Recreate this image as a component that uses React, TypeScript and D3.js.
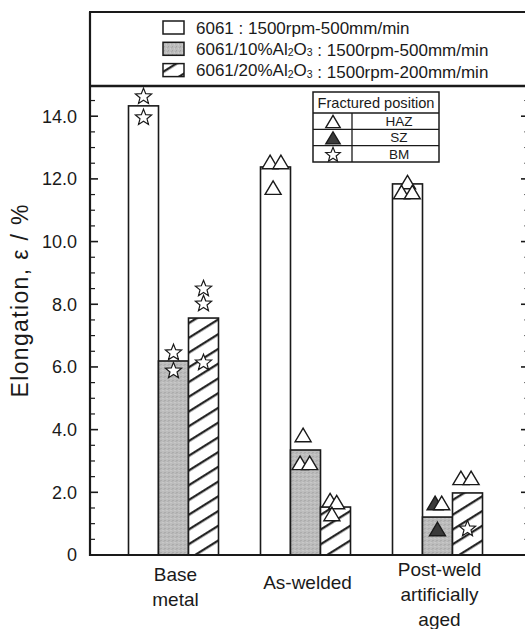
import React from 'react';
import * as d3 from 'd3';

// ---------- data ----------
const categories = ['Base metal', 'As-welded', 'Post-weld artificially aged'];
const categoryLabelLines = [['Base', 'metal'], ['As-welded'], ['Post-weld', 'artificially', 'aged']];
const seriesIds = ['s6061', 's10', 's20'];
const seriesAlloy = ['6061', '6061/10%Al2O3', '6061/20%Al2O3'];
const seriesProcess = ['1500rpm-500mm/min', '1500rpm-500mm/min', '1500rpm-200mm/min'];
const elong6061 = [14.33, 12.38, 11.84];
const elong10 = [6.19, 3.35, 1.21];
const elong20 = [7.56, 1.53, 1.98];
const yTickValues = [0, 2, 4, 6, 8, 10, 12, 14];
const yTickLabels = ['0', '2.0', '4.0', '6.0', '8.0', '10.0', '12.0', '14.0'];
const fractureTypes = ['HAZ', 'SZ', 'BM'];
// individual specimens: [category index, series index, elongation, fracture position, overlap slot]
const specimens: [number, number, number, string, number][] = [
  [0, 0, 14.65, 'BM', 0], [0, 0, 13.98, 'BM', 0],
  [0, 1, 6.48, 'BM', 0], [0, 1, 5.9, 'BM', 0],
  [0, 2, 8.52, 'BM', 0], [0, 2, 8.04, 'BM', 0], [0, 2, 6.16, 'BM', 0],
  [1, 0, 12.54, 'HAZ', -0.45], [1, 0, 12.54, 'HAZ', 0.45], [1, 0, 11.72, 'HAZ', -0.2],
  [1, 1, 3.83, 'HAZ', -0.2], [1, 1, 2.94, 'HAZ', -0.45], [1, 1, 2.94, 'HAZ', 0.35],
  [1, 2, 1.75, 'HAZ', -0.45], [1, 2, 1.69, 'HAZ', 0.1], [1, 2, 1.31, 'HAZ', -0.3],
  [2, 0, 11.9, 'HAZ', 0], [2, 0, 11.58, 'HAZ', -0.5], [2, 0, 11.58, 'HAZ', 0.4],
  [2, 1, 1.66, 'SZ', -0.2], [2, 1, 1.66, 'HAZ', 0.35], [2, 1, 0.83, 'SZ', 0],
  [2, 2, 2.46, 'HAZ', -0.55], [2, 2, 2.46, 'HAZ', 0.3], [2, 2, 0.86, 'BM', 0],
];

// ---------- layout ----------
const W = 525;
const H = 629;
const FONT = '"Liberation Sans", Arial, Helvetica, sans-serif';
const INK = '#1a1a1a';
const plotLeft = 90;
const plotRight = 529;
const plotTop = 86;
const plotBottom = 555;
const legendTop = 12;

const seriesValues = [elong6061, elong10, elong20];

const y = d3.scaleLinear().domain([0, 14.9]).range([plotBottom, plotTop + 2]);
const x0 = d3.scaleBand<string>().domain(categories).range([107.5, 503.5]).padding(0);
const groupWidth = 90;
const x1 = d3.scaleBand<string>().domain(seriesIds).range([0, groupWidth]).padding(0);
const minorTicks = d3.range(0, 14.51, 0.5).filter((v) => Math.abs(v % 2) > 1e-6);

const fills = ['#ffffff', 'url(#stipple)', 'url(#hatch)'];

function starPath(R: number, r: number) {
  const pts: [number, number][] = [];
  for (let i = 0; i < 10; i++) {
    const a = -Math.PI / 2 + (i * Math.PI) / 5;
    const rad = i % 2 === 0 ? R : r;
    pts.push([Math.cos(a) * rad, Math.sin(a) * rad + 0.8]);
  }
  return d3.line()(pts) + 'Z';
}
function triPath(w: number, h: number) {
  return d3.line()([[0, -h / 2], [w / 2, h / 2], [-w / 2, h / 2]]) + 'Z';
}

function Marker({ type, cx, cy, scale = 1 }: { type: string; cx: number; cy: number; scale?: number }) {
  if (type === 'BM') {
    return <path d={starPath(8.5 * scale, 3.7 * scale)} transform={`translate(${cx},${cy})`} fill="#fff" stroke={INK} strokeWidth={1.2} strokeLinejoin="miter" />;
  }
  const filled = type === 'SZ';
  return <path d={triPath(16 * scale, 13.5 * scale)} transform={`translate(${cx},${cy})`} fill={filled ? '#3a3a3a' : '#fff'} stroke={INK} strokeWidth={1.4} strokeLinejoin="miter" />;
}

function formula(text: string) {
  const parts = text.split(/(?<=[A-Za-z])(\d)/);
  return parts.map((p, i) =>
    i % 2 === 1 ? (
      <tspan key={i} fontSize={10.5} dy={1.5}>{p}</tspan>
    ) : (
      <tspan key={i} dy={i > 0 ? -1.5 : 0}>{p}</tspan>
    )
  );
}

export default function App() {
  const groupX = (c: string) => (x0(c) as number) + x0.bandwidth() / 2 - groupWidth / 2;
  return (
    <svg width={W} height={H} viewBox={`0 0 ${W} ${H}`} style={{ position: 'absolute', left: 0, top: 0, background: '#fff' }} fontFamily={FONT}>
      <defs>
        <pattern id="hatch" patternUnits="userSpaceOnUse" width={12} height={12.5} patternTransform="rotate(-32)">
          <rect width={12} height={12.5} fill="#fff" />
          <line x1={-1} x2={13} y1={6} y2={6} stroke={INK} strokeWidth={2.2} />
        </pattern>
        <pattern id="stipple" patternUnits="userSpaceOnUse" width={4} height={4}>
          <rect width={4} height={4} fill="#bdbdbd" />
          <rect x={0} y={0} width={1} height={1} fill="#9a9a9a" />
          <rect x={2} y={2} width={1} height={1} fill="#d2d2d2" />
          <rect x={3} y={1} width={1} height={1} fill="#a8a8a8" />
        </pattern>
      </defs>

      {/* bars */}
      {categories.map((c, ci) => (
        <g key={c} transform={`translate(${groupX(c)},0)`}>
          {seriesIds.map((s, si) => {
            const v = seriesValues[si][ci];
            return (
              <rect key={s} x={x1(s)} y={y(v)} width={x1.bandwidth()} height={y(0) - y(v)} fill={fills[si]} stroke={INK} strokeWidth={1.6} />
            );
          })}
        </g>
      ))}

      {/* specimen markers */}
      {specimens.map(([ci, si, v, t, slot], i) => {
        const cx = groupX(categories[ci]) + (x1(seriesIds[si]) as number) + x1.bandwidth() / 2 + slot * 12;
        return <Marker key={i} type={t} cx={cx} cy={y(v)} />;
      })}

      {/* frame */}
      <line x1={plotLeft} x2={plotLeft} y1={legendTop} y2={plotBottom + 1} stroke={INK} strokeWidth={2.2} />
      <line x1={plotLeft - 1} x2={W + 5} y1={legendTop} y2={legendTop} stroke={INK} strokeWidth={2} />
      <line x1={plotLeft - 1} x2={W + 5} y1={plotTop} y2={plotTop} stroke={INK} strokeWidth={2.6} />
      <line x1={plotLeft - 1} x2={W + 5} y1={plotBottom} y2={plotBottom} stroke={INK} strokeWidth={2.2} />

      {/* y ticks */}
      {yTickValues.map((v, i) => (
        <g key={v}>
          <line x1={plotLeft} x2={plotLeft + 8} y1={y(v)} y2={y(v)} stroke={INK} strokeWidth={1.6} />
          <line x1={plotRight} x2={plotRight - 8} y1={y(v)} y2={y(v)} stroke={INK} strokeWidth={1.6} />
          <text x={77} y={y(v)} dy="0.36em" textAnchor="end" fontSize={18} fill={INK}>{yTickLabels[i]}</text>
        </g>
      ))}
      {minorTicks.map((v) => (
        <g key={'m' + v}>
          <line x1={plotLeft} x2={plotLeft + 5} y1={y(v)} y2={y(v)} stroke={INK} strokeWidth={1.2} />
          <line x1={plotRight} x2={plotRight - 5} y1={y(v)} y2={y(v)} stroke="#666" strokeWidth={1} />
        </g>
      ))}

      {/* y label */}
      <text transform="translate(28,301) rotate(-90)" textAnchor="middle" fontSize={23} fill={INK} textLength={193} lengthAdjust="spacing">
        Elongation, ε / %
      </text>

      {/* category labels */}
      {categories.map((c, ci) => {
        const lines = categoryLabelLines[ci];
        const startY = lines.length === 1 ? 589 : lines.length === 2 ? 581 : 576;
        const cx = (x0(c) as number) + x0.bandwidth() / 2 + 2;
        return (
          <text key={c} textAnchor="middle" fontSize={19} fill={INK}>
            {lines.map((l, li) => (
              <tspan key={li} x={cx} y={startY + li * 25}>{l}</tspan>
            ))}
          </text>
        );
      })}

      {/* series legend */}
      {seriesIds.map((s, si) => (
        <g key={s} transform={`translate(0,${21 + si * 21.3})`}>
          <rect x={163} y={0} width={21} height={13} fill={fills[si]} stroke={INK} strokeWidth={1.5} />
          <text x={196} y={12.5} fontSize={17} fill={INK}>
            {formula(seriesAlloy[si])}
            <tspan dy={0}>{' : ' + seriesProcess[si]}</tspan>
          </text>
        </g>
      ))}

      {/* fracture position table */}
      <g>
        <rect x={313} y={92} width={126} height={70} fill="#fff" stroke={INK} strokeWidth={1.5} />
        <line x1={313} x2={439} y1={113} y2={113} stroke={INK} strokeWidth={1.5} />
        <text x={376} y={108} textAnchor="middle" fontSize={14.5} fill={INK} textLength={117} lengthAdjust="spacingAndGlyphs">Fractured position</text>
        <line x1={352} x2={352} y1={113} y2={162} stroke={INK} strokeWidth={1.3} />
        {fractureTypes.map((t, ti) => {
          const top = 113 + ti * 16.33;
          return (
            <g key={t}>
              {ti > 0 && <line x1={313} x2={439} y1={top} y2={top} stroke={INK} strokeWidth={1.3} />}
              <Marker type={t} cx={333} cy={top + 8.5} scale={0.9} />
              <text x={399} y={top + 13} textAnchor="middle" fontSize={13.5} fill={INK}>{t}</text>
            </g>
          );
        })}
      </g>
    </svg>
  );
}
